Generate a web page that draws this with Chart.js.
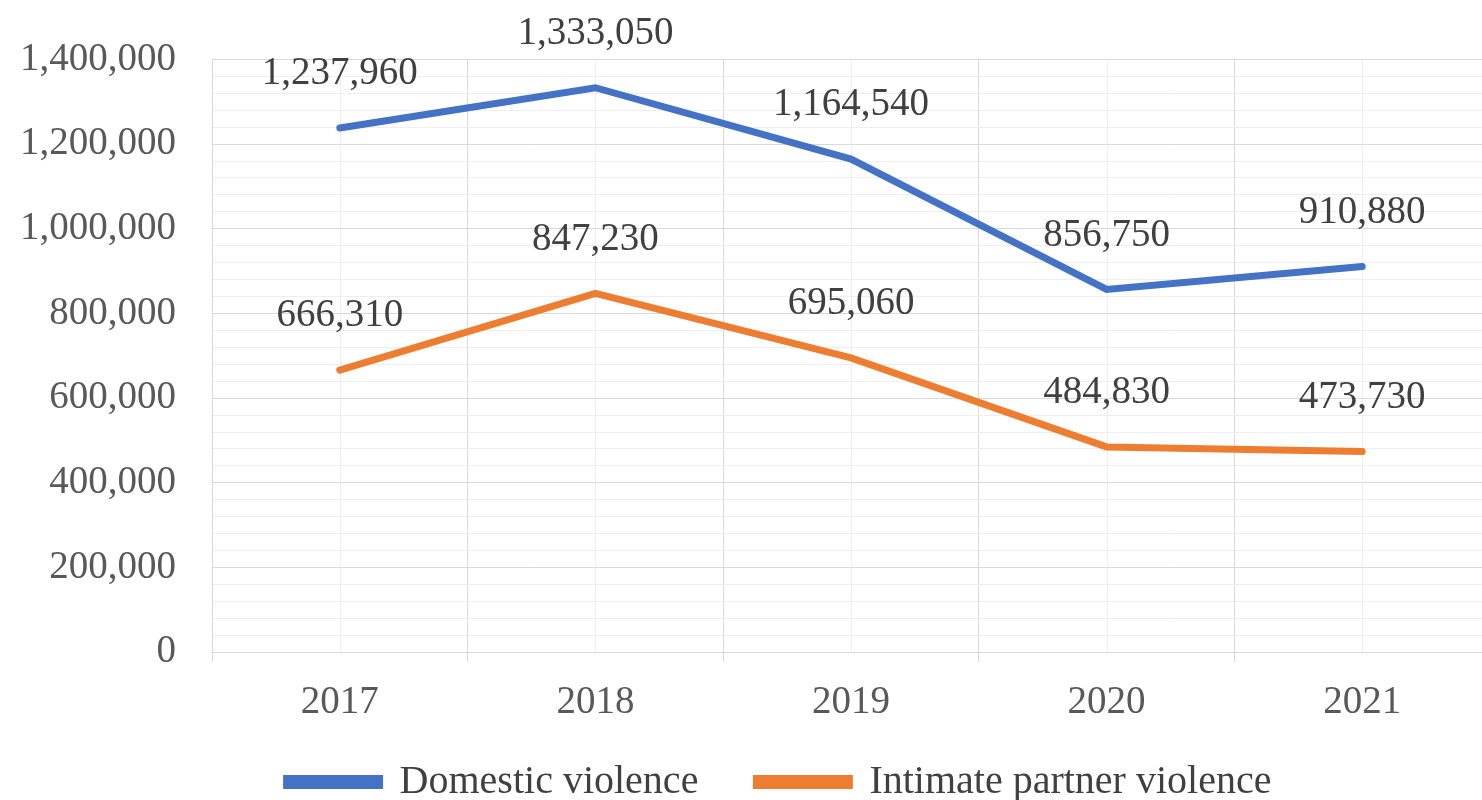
<!DOCTYPE html>
<html>
<head>
<meta charset="utf-8">
<script src="https://cdn.jsdelivr.net/npm/chart.js@4"></script>
<style>
  html, body { margin: 0; padding: 0; background: #fff; overflow: hidden; }
  #wrap { width: 1492px; height: 800px; }
</style>
</head>
<body>
<div id="wrap"><canvas id="lineChart"></canvas></div>
<script>
// 数据
const years = ['2017', '2018', '2019', '2020', '2021'];
const domesticViolence = [1237960, 1333050, 1164540, 856750, 910880];
const partnerViolence = [666310, 847230, 695060, 484830, 473730];
const seriesNames = ['Domestic violence', 'Intimate partner violence'];
const seriesColors = ['#4472C4', '#ED7D31'];

const FONT = '"Liberation Serif", "Times New Roman", serif';
const fmt = v => v.toLocaleString('en-US');

// 类别中心的浅色竖线
const centerLines = {
    id: 'centerLines',
    beforeDatasetsDraw(chart) {
        const { ctx, chartArea, scales } = chart;
        ctx.save();
        ctx.strokeStyle = '#ededed';
        ctx.lineWidth = 1;
        years.forEach((y, i) => {
            const px = Math.round(scales.x.getPixelForValue(i)) + 0.5;
            ctx.beginPath();
            ctx.moveTo(px, chartArea.top);
            ctx.lineTo(px, chartArea.bottom);
            ctx.stroke();
        });
        ctx.restore();
    }
};

// 数据标签
const valueLabels = {
    id: 'valueLabels',
    afterDatasetsDraw(chart) {
        const { ctx } = chart;
        ctx.save();
        ctx.font = '39px ' + FONT;
        ctx.fillStyle = '#404040';
        ctx.textAlign = 'center';
        ctx.textBaseline = 'middle';
        chart.data.datasets.forEach((ds, di) => {
            const meta = chart.getDatasetMeta(di);
            meta.data.forEach((pt, i) => {
                ctx.fillText(fmt(ds.data[i]), pt.x, pt.y - 54);
            });
        });
        ctx.restore();
    }
};

// 图例整体稍微右移
const legendShift = {
    id: 'legendShift',
    afterLayout(chart) {
        if (chart.legend) {
            chart.legend.left += 34;
            chart.legend.right += 34;
        }
    }
};

new Chart(document.getElementById('lineChart'), {
    type: 'line',
    data: {
        labels: years,
        datasets: [
            {
                label: seriesNames[0],
                data: domesticViolence,
                borderColor: seriesColors[0],
                backgroundColor: seriesColors[0],
                borderWidth: 7,
                borderCapStyle: 'round',
                pointRadius: 0,
                tension: 0
            },
            {
                label: seriesNames[1],
                data: partnerViolence,
                borderColor: seriesColors[1],
                backgroundColor: seriesColors[1],
                borderWidth: 7,
                borderCapStyle: 'round',
                pointRadius: 0,
                tension: 0
            }
        ]
    },
    options: {
        responsive: true,
        maintainAspectRatio: false,
        animation: false,
        layout: { padding: { top: 57, left: 0, right: 2, bottom: -12 } },
        plugins: {
            legend: {
                position: 'bottom',
                labels: {
                    font: { family: FONT, size: 40 },
                    color: '#404040',
                    boxWidth: 93,
                    boxHeight: 7,
                    padding: 8,
                    generateLabels(chart) {
                        const items = Chart.defaults.plugins.legend.labels.generateLabels(chart);
                        // 第一项后面多留一点间距
                        items[0].text = items[0].text + '\u2003 ';
                        return items;
                    }
                }
            },
            tooltip: { enabled: false }
        },
        scales: {
            x: {
                offset: true,
                grid: {
                    offset: true,
                    color: '#d9d9d9',
                    tickColor: '#d9d9d9',
                    tickLength: 10
                },
                border: { color: '#d9d9d9' },
                ticks: {
                    font: { family: FONT, size: 39 },
                    color: '#595959',
                    padding: 17
                },
                afterFit(scale) {
                    scale.height += 11;
                }
            },
            y: {
                min: 0,
                max: 1400000,
                grid: {
                    drawTicks: false,
                    color: ctx => (ctx.tick && ctx.tick.value % 200000 === 0) ? '#d9d9d9' : '#eeeeee'
                },
                border: { color: '#d9d9d9' },
                ticks: {
                    stepSize: 40000,
                    autoSkip: false,
                    font: { family: FONT, size: 39 },
                    color: '#595959',
                    padding: 36,
                    callback: v => (v % 200000 === 0) ? fmt(v) : ''
                },
                afterFit(scale) {
                    scale.width = 212;
                }
            }
        }
    },
    plugins: [centerLines, valueLabels, legendShift]
});
</script>
</body>
</html>
